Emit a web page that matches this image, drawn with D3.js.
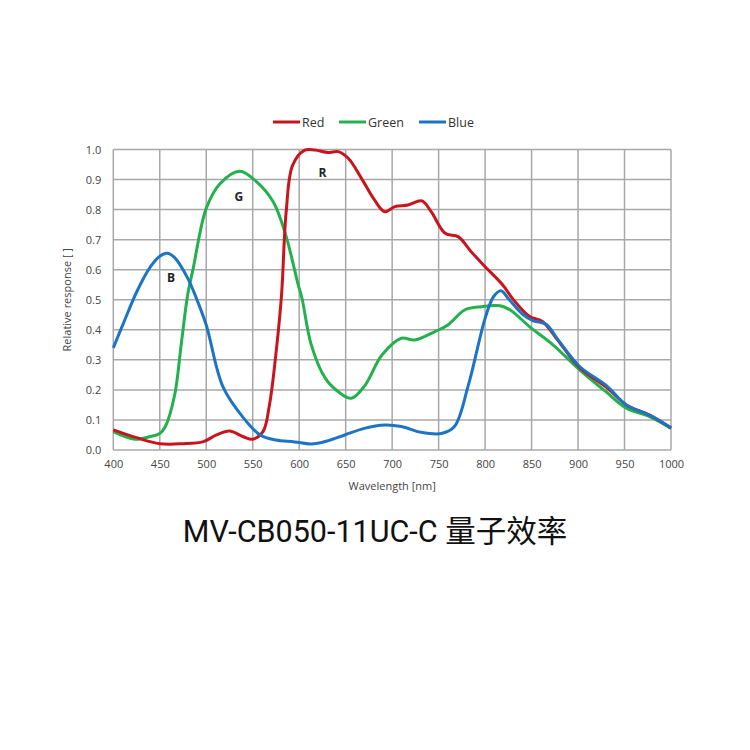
<!DOCTYPE html>
<html>
<head>
<meta charset="utf-8">
<script src="https://cdn.jsdelivr.net/npm/d3@7"></script>
<style>
  body { margin: 0; background: #fff; }
  svg { display: block; }
  .tick text { font-family: 'Open Sans', 'DejaVu Sans', sans-serif; font-size: 11px; fill: #444; }
</style>
</head>
<body>
<svg width="750" height="750"></svg>
<script>
// wavelength [nm], relative response
const xTicks = [400, 450, 500, 550, 600, 650, 700, 750, 800, 850, 900, 950, 1000]
const yTicks = [0, 0.1, 0.2, 0.3, 0.4, 0.5, 0.6, 0.7, 0.8, 0.9, 1.0]

const blue = [
  [400, 0.34], [412, 0.43], [425, 0.525], [440, 0.61], [450, 0.645], [458, 0.655],
  [466, 0.64], [480, 0.572], [490, 0.5], [500, 0.416], [518, 0.21], [540, 0.107],
  [558, 0.05], [575, 0.033], [595, 0.027], [613, 0.02], [630, 0.03], [649, 0.05],
  [670, 0.072], [692, 0.083], [710, 0.078], [731, 0.059], [753, 0.055], [767, 0.078],
  [782, 0.216], [800, 0.438], [809, 0.51], [817, 0.53], [826, 0.5], [841, 0.45],
  [852, 0.43], [866, 0.418], [877, 0.373], [902, 0.277], [930, 0.216], [952, 0.15],
  [977, 0.116], [1000, 0.074]
]

const green = [
  [400, 0.061], [423, 0.036], [440, 0.045], [450, 0.055], [456, 0.078], [466, 0.183],
  [473, 0.35], [480, 0.516], [486, 0.605], [500, 0.804], [515, 0.887], [536, 0.928],
  [554, 0.893], [572, 0.826], [585, 0.721], [599, 0.549], [603, 0.505], [613, 0.35],
  [628, 0.239], [642, 0.194], [656, 0.172], [671, 0.216], [689, 0.316], [710, 0.372],
  [724, 0.366], [746, 0.394], [760, 0.416], [778, 0.466], [796, 0.477], [816, 0.48],
  [827, 0.466], [848, 0.41], [873, 0.35], [902, 0.266], [930, 0.194], [952, 0.139],
  [977, 0.111], [1000, 0.072]
]

const red = [
  [400, 0.067], [425, 0.041], [450, 0.021], [475, 0.021], [497, 0.028], [511, 0.05],
  [525, 0.063], [540, 0.044], [550, 0.036], [561, 0.061], [568, 0.15], [576, 0.35],
  [581, 0.516], [586, 0.793], [593, 0.948], [606, 0.998], [617, 0.998], [631, 0.99],
  [642, 0.993], [653, 0.97], [667, 0.904], [681, 0.832], [692, 0.793], [703, 0.81],
  [717, 0.815], [732, 0.829], [742, 0.793], [757, 0.721], [771, 0.71], [785, 0.66],
  [800, 0.61], [819, 0.549], [830, 0.502], [848, 0.444], [862, 0.427], [877, 0.37],
  [902, 0.273], [930, 0.21], [952, 0.15], [977, 0.116], [1000, 0.073]
]

const series = [
  { name: 'Green', color: '#22b14c', values: green },
  { name: 'Red', color: '#c8141c', values: red },
  { name: 'Blue', color: '#1c74c4', values: blue }
]
const legendOrder = ['Red', 'Green', 'Blue']
const letters = [
  { t: 'B', x: 462, y: 0.56 },
  { t: 'G', x: 535, y: 0.83 },
  { t: 'R', x: 625, y: 0.91 }
]

const svg = d3.select('svg')
const m = { left: 113.3, right: 671, top: 149.5, bottom: 450 }

const x = d3.scaleLinear().domain([400, 1000]).range([m.left, m.right])
const y = d3.scaleLinear().domain([0, 1]).range([m.bottom, m.top])

// grid
const grid = svg.append('g').attr('stroke', '#a8a8a8').attr('stroke-width', 1.5)
grid.selectAll('.gx').data(xTicks).join('line')
  .attr('x1', d => x(d)).attr('x2', d => x(d))
  .attr('y1', m.top).attr('y2', m.bottom)
grid.selectAll('.gy').data(yTicks).join('line')
  .attr('x1', m.left).attr('x2', m.right)
  .attr('y1', d => y(d)).attr('y2', d => y(d))

// axes (labels only)
svg.append('g')
  .attr('transform', `translate(0,${m.bottom})`)
  .call(d3.axisBottom(x).tickValues(xTicks).tickSize(0).tickPadding(10).tickFormat(d3.format('d')))
  .call(g => g.select('.domain').remove())
svg.append('g')
  .attr('transform', `translate(${m.left},0)`)
  .call(d3.axisLeft(y).tickValues(yTicks).tickSize(0).tickPadding(12).tickFormat(d3.format('.1f')))
  .call(g => g.select('.domain').remove())

svg.append('text')
  .attr('x', (m.left + m.right) / 2).attr('y', 490)
  .attr('text-anchor', 'middle')
  .style('font-family', "'Open Sans', sans-serif").style('font-size', '11px').style('fill', '#444')
  .text('Wavelength [nm]')

svg.append('text')
  .attr('transform', `translate(71,${(m.top + m.bottom) / 2}) rotate(-90)`)
  .attr('text-anchor', 'middle')
  .style('font-family', "'Open Sans', sans-serif").style('font-size', '11px').style('fill', '#444')
  .text('Relative response [ ]')

// curves
const line = d3.line()
  .x(d => x(d[0])).y(d => y(d[1]))
  .curve(d3.curveCatmullRom.alpha(0.5))

svg.append('g').selectAll('path').data(series).join('path')
  .attr('d', d => line(d.values))
  .attr('fill', 'none')
  .attr('stroke', d => d.color)
  .attr('stroke-width', 3)
  .attr('stroke-linejoin', 'round')

svg.append('g').selectAll('text').data(letters).join('text')
  .attr('x', d => x(d.x)).attr('y', d => y(d.y))
  .attr('text-anchor', 'middle')
  .style('font-family', "'Open Sans', sans-serif").style('font-size', '12px').style('font-weight', 'bold')
  .style('fill', '#222')
  .text(d => d.t)

// legend
const legendX = [273, 339, 419]
const lg = svg.append('g').selectAll('g').data(legendOrder).join('g')
  .attr('transform', (d, i) => `translate(${legendX[i]},122)`)
lg.append('line')
  .attr('x1', 0).attr('x2', 27).attr('y1', 0).attr('y2', 0)
  .attr('stroke', d => series.find(s => s.name === d).color)
  .attr('stroke-width', 3)
lg.append('text')
  .attr('x', 29).attr('y', 4.5)
  .style('font-family', "'Open Sans', sans-serif").style('font-size', '12.5px').style('fill', '#333')
  .text(d => d)

// title
svg.append('text')
  .attr('x', 375).attr('y', 542)
  .attr('text-anchor', 'middle')
  .style('font-family', "Roboto, 'Noto Sans CJK SC', sans-serif").style('font-size', '30.5px').style('fill', '#111')
  .text('MV-CB050-11UC-C 量子效率')
</script>
</body>
</html>
